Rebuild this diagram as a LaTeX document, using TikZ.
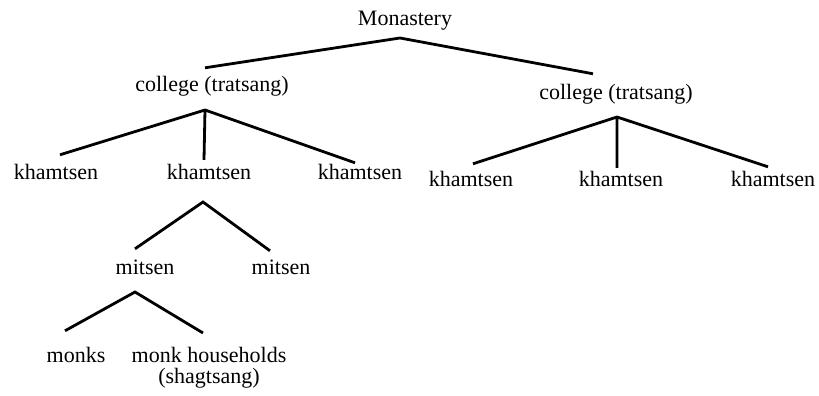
\documentclass[tikz,border=0pt]{standalone}
\usepackage{fontspec}
\setmainfont{Liberation Serif}
\usetikzlibrary{positioning}

\begin{document}
\begin{tikzpicture}[x=1pt, y=1pt, label/.style = {anchor=base, inner sep=0pt, text height=16pt, text depth=5pt, font=\fontsize{22}{21}\selectfont}, branch/.style = {line width=2.8pt}]
    \useasboundingbox (0,0) rectangle (819,396);
    % levels of the monastery
    \node[label] (mon) at (405,370) {Monastery};
    \node[label] (col1) at (212,304) {college (tratsang)};
    \node[label] (col2) at (616,296) {college (tratsang)};
    \node[label] (kh1) at (56,216) {khamtsen};
    \node[label] (kh2) at (209,216) {khamtsen};
    \node[label] (kh3) at (360,216) {khamtsen};
    \node[label] (kh4) at (471,209) {khamtsen};
    \node[label] (kh5) at (621,209) {khamtsen};
    \node[label] (kh6) at (773,209) {khamtsen};
    \node[label] (mit1) at (145,121) {mitsen};
    \node[label] (mit2) at (281,121) {mitsen};
    \node[label] (monks) at (76,33) {monks};
    \node[label, text height=, text depth=, align=center, anchor=north] (hh) at (209,49) {monk households\\(shagtsang)};
    % branching points
    \coordinate (mon-a) at (400,358);
    \coordinate (col1-a) at (205,286);
    \coordinate (col2-a) at (617,279);
    \coordinate (kh2-a) at (203,194);
    \coordinate (mit1-a) at (135,104);
    \draw[branch] ([shift={(-7,8)}]col1.north) -- (mon-a) -- ([shift={(-23,10)}]col2.north);
    \draw[branch] ([shift={(4,9)}]kh1.north) -- (col1-a) -- ([shift={(-5,1)}]kh3.north) (col1-a) -- ([shift={(-5,4)}]kh2.north);
    \draw[branch] ([shift={(2,7)}]kh4.north) -- (col2-a) -- ([shift={(-5,4)}]kh6.north) (col2-a) -- ([shift={(-4,3)}]kh5.north);
    \draw[branch] ([shift={(-10,10)}]mit1.north) -- (kh2-a) -- ([shift={(-11,8)}]mit2.north);
    \draw[branch] ([shift={(-11,16)}]monks.north) -- (mit1-a) -- ([shift={(-6,14)}]hh.north);
\end{tikzpicture}
\end{document}
